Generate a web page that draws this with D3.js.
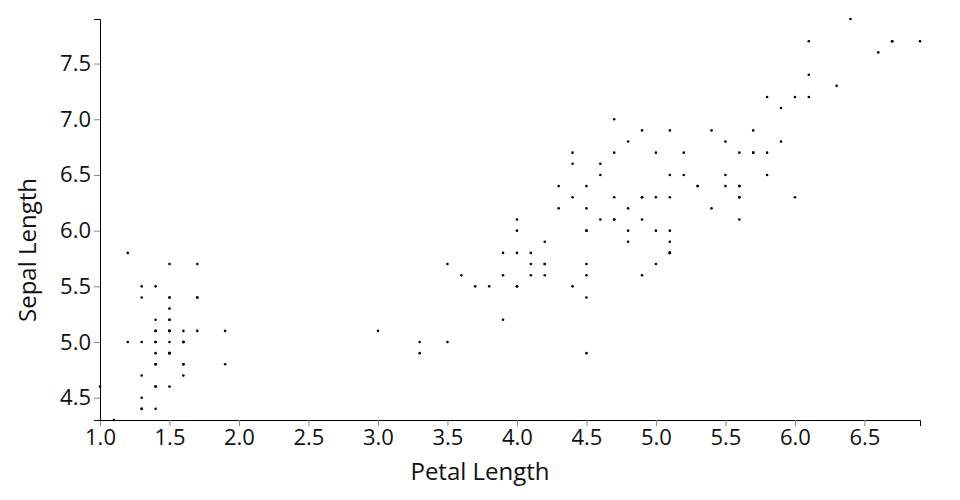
<!DOCTYPE html>
<html>
<head>
<meta charset="utf-8">
<script src="https://cdn.jsdelivr.net/npm/d3@7"></script>
<style>
body { margin: 0; background: #fff; }
svg { display: block; }
text { font-family: "Open Sans", sans-serif; }
</style>
</head>
<body>
<svg id="chart" width="960" height="500"></svg>
<script>
// Iris dataset: petal length (x) and sepal length (y)
const petalLength = [
1.4,1.4,1.3,1.5,1.4,1.7,1.4,1.5,1.4,1.5,1.5,1.6,1.4,1.1,1.2,1.5,1.3,1.4,1.7,1.5,
1.7,1.5,1.0,1.7,1.9,1.6,1.6,1.5,1.4,1.6,1.6,1.5,1.5,1.4,1.5,1.2,1.3,1.5,1.3,1.5,
1.3,1.3,1.3,1.6,1.9,1.4,1.6,1.4,1.5,1.4,
4.7,4.5,4.9,4.0,4.6,4.5,4.7,3.3,4.6,3.9,3.5,4.2,4.0,4.7,3.6,4.4,4.5,4.1,4.5,3.9,
4.8,4.0,4.9,4.7,4.3,4.4,4.8,5.0,4.5,3.5,3.8,3.7,3.9,5.1,4.5,4.5,4.7,4.4,4.1,4.0,
4.4,4.6,4.0,3.3,4.2,4.2,4.2,4.3,3.0,4.1,
6.0,5.1,5.9,5.6,5.8,6.6,4.5,6.3,5.8,6.1,5.1,5.3,5.5,5.0,5.1,5.3,5.5,6.7,6.9,5.0,
5.7,4.9,6.7,4.9,5.7,6.0,4.8,4.9,5.6,5.8,6.1,6.4,5.6,5.1,5.6,6.1,5.6,5.5,4.8,5.4,
5.6,5.1,5.1,5.9,5.7,5.2,5.0,5.2,5.4,5.1
];
const sepalLength = [
5.1,4.9,4.7,4.6,5.0,5.4,4.6,5.0,4.4,4.9,5.4,4.8,4.8,4.3,5.8,5.7,5.4,5.1,5.7,5.1,
5.4,5.1,4.6,5.1,4.8,5.0,5.0,5.2,5.2,4.7,4.8,5.4,5.2,5.5,4.9,5.0,5.5,4.9,4.4,5.1,
5.0,4.5,4.4,5.0,5.1,4.8,5.1,4.6,5.3,5.0,
7.0,6.4,6.9,5.5,6.5,5.7,6.3,4.9,6.6,5.2,5.0,5.9,6.0,6.1,5.6,6.7,5.6,5.8,6.2,5.6,
5.9,6.1,6.3,6.1,6.4,6.6,6.8,6.7,6.0,5.7,5.5,5.5,5.8,6.0,5.4,6.0,6.7,6.3,5.6,5.5,
5.5,6.1,5.8,5.0,5.6,5.7,5.7,6.2,5.1,5.7,
6.3,5.8,7.1,6.3,6.5,7.6,4.9,7.3,6.7,7.2,6.5,6.4,6.8,5.7,5.8,6.4,6.5,7.7,7.7,6.0,
6.9,5.6,7.7,6.3,6.7,7.2,6.2,6.1,6.4,7.2,7.4,7.9,6.4,6.3,6.1,7.7,6.3,6.4,6.0,6.9,
6.7,6.9,5.8,6.8,6.7,6.7,6.3,6.5,6.2,5.9
];
const xTitle = "Petal Length";
const yTitle = "Sepal Length";

const W = 960, H = 500;
const margin = {top: 19, right: 40, bottom: 80, left: 100};
const svg = d3.select("#chart");

const data = petalLength.map((p, i) => ({x: p, y: sepalLength[i]}));

const x = d3.scaleLinear().domain(d3.extent(petalLength)).range([margin.left, W - margin.right]);
const y = d3.scaleLinear().domain(d3.extent(sepalLength)).range([H - margin.bottom, margin.top]);

const fmt = d3.format(".1f");

const gx = svg.append("g")
  .attr("transform", `translate(0,${H - margin.bottom})`)
  .call(d3.axisBottom(x).tickFormat(fmt));
const gy = svg.append("g")
  .attr("transform", `translate(${margin.left},0)`)
  .call(d3.axisLeft(y).tickFormat(fmt));

[gx, gy].forEach(g => {
  g.selectAll("text").attr("font-size", 22).attr("font-family", "Open Sans").attr("fill", "#111");
  g.selectAll(".tick line").attr("stroke", "#888");
  g.select(".domain").attr("stroke", "#000");
});

svg.append("g").selectAll("circle").data(data).join("circle")
  .attr("cx", d => x(d.x))
  .attr("cy", d => y(d.y))
  .attr("r", 1.3)
  .attr("fill", "#000");

svg.append("text")
  .attr("x", W / 2).attr("y", 480)
  .attr("text-anchor", "middle")
  .attr("font-size", 24).attr("fill", "#111")
  .text(xTitle);

svg.append("text")
  .attr("transform", `translate(36,${H / 2}) rotate(-90)`)
  .attr("text-anchor", "middle")
  .attr("font-size", 24).attr("fill", "#111")
  .text(yTitle);
</script>
</body>
</html>
